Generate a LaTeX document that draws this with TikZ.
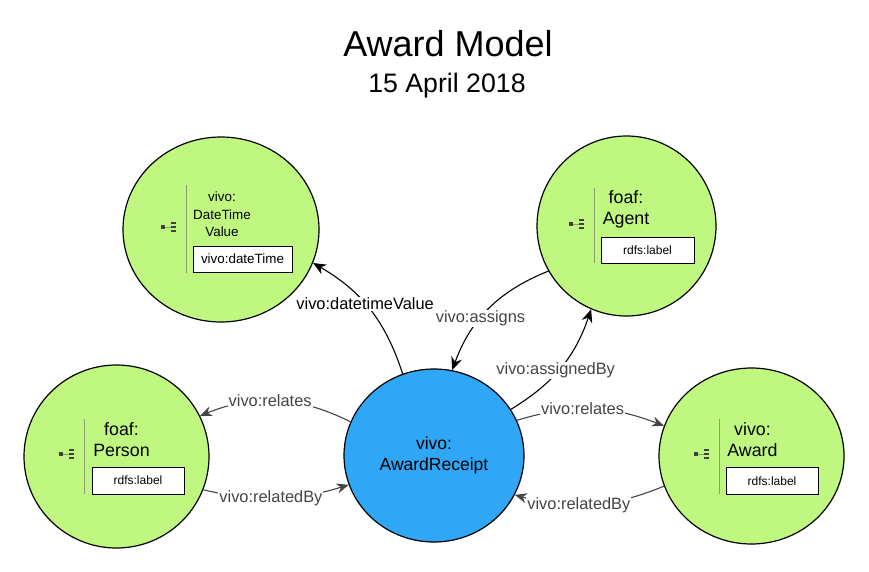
\documentclass[tikz,border=0pt]{standalone}
\usepackage{fontspec}
\setmainfont{Liberation Sans}
\usetikzlibrary{arrows.meta,shapes.geometric}
\definecolor{classgreen}{HTML}{C0F780}
\definecolor{receiptblue}{HTML}{2FA6F6}
\definecolor{edgegrey}{HTML}{444444}
\definecolor{rulegreen}{HTML}{8C9E70}
\begin{document}
\begin{tikzpicture}[x=1pt,y=-1pt]
        \tikzstyle{classnode}=[ellipse,line width=1.2pt,draw=black,fill=classgreen,inner sep=0pt]
        \tikzstyle{receiptnode}=[ellipse,line width=1.2pt,draw=black,fill=receiptblue,inner sep=0pt,font=\fontsize{17.5}{21}\selectfont,align=center]
        \tikzstyle{classtext}=[font=\fontsize{17.8}{21}\selectfont,align=center,inner sep=0pt]
        \tikzstyle{proptext}=[draw=black,line width=1pt,fill=white,font=\fontsize{12}{14}\selectfont,inner sep=0pt,minimum height=26pt]
        \tikzstyle{edge}=[draw=black,line width=1.1pt,-{Stealth[length=13pt,width=11pt]}]
        \tikzstyle{greyedge}=[draw=edgegrey,line width=1.1pt,-{Stealth[length=12pt,width=10pt]}]
        \tikzstyle{edgetext}=[fill=white,inner sep=1pt,text=edgegrey,font=\fontsize{16.4}{18}\selectfont]
        \useasboundingbox (0,0) rectangle (869,572);
        \node [font=\fontsize{36}{40}\selectfont] (title) at (448,44) {Award Model};
        \node [font=\fontsize{26.7}{30}\selectfont] (date) at (447,86) {15 April 2018};
        % classes
        \node [classnode,minimum width=196pt,minimum height=185pt] (datetime) at (221,229.5) {};
        \node [classnode,minimum width=179pt,minimum height=180pt] (agent) at (626.5,226) {};
        \node [classnode,minimum width=185pt,minimum height=183pt] (person) at (116.5,456.5) {};
        \node [classnode,minimum width=185pt,minimum height=176pt] (award) at (751.5,456) {};
        \node [receiptnode,minimum width=180pt,minimum height=173pt] (receipt) at (434,455.5) {vivo:\\AwardReceipt};
        % divider and tree icon of each class
        \foreach \ix/\iy/\lx/\ltop/\lbot in {168/227/186.7/185/273,576/224/594/188/263,66/454/84/419/494,701/454/719/419/494} {
          \draw [rulegreen,thick] (\lx,\ltop) -- (\lx,\lbot);
          \draw [rulegreen,very thin] (\ix-3,\iy) -- (\ix+3,\iy);
          \fill [black!75] (\ix-7,\iy-2) rectangle +(4,4);
          \fill [black!75] (\ix+3,\iy-5) rectangle +(5,2);
          \fill [black!75] (\ix+3,\iy-1) rectangle +(5,2);
          \fill [black!75] (\ix+3,\iy+3) rectangle +(5,2);
        }
        % class texts
        \node [classtext,font=\fontsize{13.4}{17.5}\selectfont] (datetimetext) at (222,214.5) {vivo:\\DateTime\\Value};
        \node [proptext,font=\fontsize{13.4}{15}\selectfont,minimum width=99pt] (datetimeprop) at (242.5,259) {vivo:dateTime};
        \node [classtext] (agenttext) at (626,209.5) {foaf:\\Agent};
        \node [proptext,minimum width=93pt] (agentprop) at (647.5,250) {rdfs:label};
        \node [classtext] (persontext) at (121.5,439.5) {foaf:\\Person};
        \node [proptext,minimum width=92pt,minimum height=27pt] (personprop) at (138,480.5) {rdfs:label};
        \node [classtext] (awardtext) at (752.5,439.5) {vivo:\\Award};
        \node [proptext,minimum width=92pt,minimum height=27pt] (awardprop) at (772,481) {rdfs:label};
        % relations
        \path (receipt.111) edge [edge,bend right=21] node[edgetext,text=black,pos=.55] {vivo:datetimeValue} (datetime.-20);
        \path (agent.210) edge [edge,bend right=24] node[edgetext,pos=.59] {vivo:assigns} (receipt.78);
        \path (receipt.31) edge [edge,bend right=20] node[edgetext,xshift=-3pt,pos=.47] {vivo:assignedBy} (agent.247);
        \path (receipt.23) edge [greyedge,bend left=19] node[edgetext,pos=.44] {vivo:relates} (award.161);
        \path (award.199) edge [greyedge,bend left=19] node[edgetext,pos=.58] {vivo:relatedBy} (receipt.-26);
        \path (receipt.158) edge [greyedge,bend right=24] node[edgetext,pos=.54] {vivo:relates} (person.26);
        \path (person.-21) edge [greyedge,bend right=15] node[edgetext,pos=.46] {vivo:relatedBy} (receipt.199);
\end{tikzpicture}
\end{document}
